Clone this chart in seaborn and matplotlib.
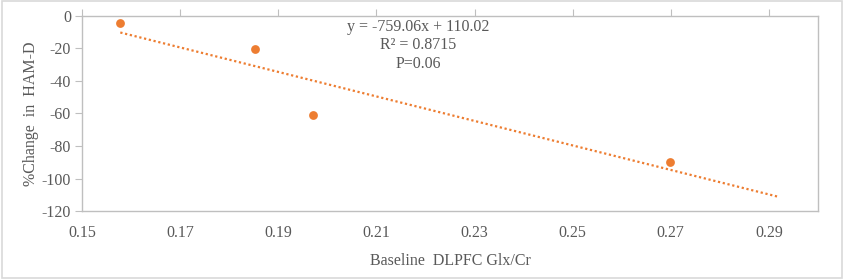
import numpy as np
import pandas as pd
import seaborn as sns
import matplotlib.pyplot as plt
from matplotlib.patches import Rectangle

# data
glx_cr = [0.1578, 0.1853, 0.1971, 0.2698]
ham_d_change = [-4.5, -20.3, -60.8, -89.8]
x_ticks = [0.15, 0.17, 0.19, 0.21, 0.23, 0.25, 0.27, 0.29]
y_ticks = [0, -20, -40, -60, -80, -100, -120]
trend_end = 0.2918  # Excel forecast forward
eq_text = "y = -759.06x + 110.02\nR² = 0.8715\nP=0.06"

df = pd.DataFrame({"glx": glx_cr, "ham": ham_d_change})

slope, intercept = np.polyfit(df["glx"], df["ham"], 1)
trend = pd.DataFrame({"glx": [min(glx_cr), trend_end]})
trend["ham"] = slope * trend["glx"] + intercept

sns.set_style("white")
plt.rcParams["font.family"] = ["Liberation Serif", "DejaVu Serif"]
text_col = "#595959"
orange = "#ED7D31"

fig = plt.figure(figsize=(8.44, 2.79), dpi=100)
ax = fig.add_axes([0.0972, 0.2437, 0.8720, 0.6990])

sns.lineplot(data=trend, x="glx", y="ham", ax=ax, color=orange,
             linestyle=(0, (1, 1.2)), linewidth=1.6)
sns.scatterplot(data=df, x="glx", y="ham", ax=ax, color=orange, s=40,
                edgecolor=orange, linewidth=0, zorder=3)

ax.set_xlim(0.15, 0.30)
ax.set_ylim(-120, 0)
ax.set_xticks(x_ticks)
ax.set_xticklabels([f"{t:.2f}" for t in x_ticks])
ax.set_yticks(y_ticks)
ax.set_yticklabels([str(t) for t in y_ticks])

for s in ax.spines.values():
    s.set_color("#BFBFBF")
    s.set_linewidth(1.0)

ax.tick_params(axis="x", bottom=False, top=True, labelbottom=True, labeltop=False,
               direction="out", length=5, color="#BFBFBF", labelsize=11.5,
               labelcolor=text_col, pad=5)
ax.tick_params(axis="y", left=True, direction="out", length=5, color="#BFBFBF",
               labelsize=11.5, labelcolor=text_col, pad=3)

ax.set_xlabel("Baseline  DLPFC Glx/Cr", fontsize=11.5, color=text_col, labelpad=9)
ax.set_ylabel("%Change  in  HAM-D", fontsize=11.5, color=text_col, labelpad=2)

ax.text(0.457, 0.985, eq_text, transform=ax.transAxes, ha="center", va="top",
        fontsize=11.5, color=text_col, linespacing=1.2)

fig.patches.append(Rectangle((0.002, 0.004), 0.996, 0.992, transform=fig.transFigure,
                             fill=False, edgecolor="#D9D9D9", linewidth=1.2))

fig.savefig("out.png", dpi=100)
